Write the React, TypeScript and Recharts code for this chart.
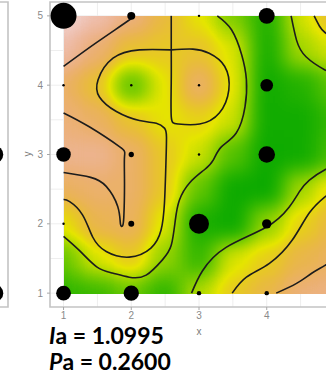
import {
  ComposedChart,
  XAxis,
  YAxis,
  ZAxis,
  CartesianGrid,
  ReferenceArea,
  Line,
  Scatter,
} from "recharts";

// surface sampled every half unit, rows run from y = 5 down to y = 1
const gridX = [1, 1.5, 2, 2.5, 3, 3.5, 4, 4.5, 5];
const gridY = [5, 4.5, 4, 3.5, 3, 2.5, 2, 1.5, 1];
const surface = [
  [0.95, 0.87, 0.78, 0.64, 0.5, 0.3, 0.1, 0.47, 0.65],
  [0.86, 0.74, 0.6, 0.58, 0.6, 0.48, 0.08, 0.38, 0.48],
  [0.73, 0.6, 0.25, 0.5, 0.72, 0.5, 0.05, 0.1, 0.25],
  [0.76, 0.71, 0.6, 0.5, 0.55, 0.45, 0.05, 0.05, 0.15],
  [0.8, 0.8, 0.72, 0.58, 0.45, 0.22, 0.04, 0.05, 0.2],
  [0.7, 0.73, 0.72, 0.58, 0.25, 0.04, 0.03, 0.38, 0.56],
  [0.5, 0.67, 0.7, 0.48, 0.08, 0.04, 0.35, 0.55, 0.66],
  [0.25, 0.48, 0.58, 0.35, 0.15, 0.47, 0.56, 0.66, 0.71],
  [0.12, 0.15, 0.25, 0.12, 0.42, 0.58, 0.66, 0.76, 0.78],
];

// sampling sites, z drives the dot area
const sites = [
  { x: 1, y: 5, z: 170 },
  { x: 2, y: 5, z: 16 },
  { x: 3, y: 5, z: 1.5 },
  { x: 4, y: 5, z: 64 },
  { x: 1, y: 4, z: 1.5 },
  { x: 2, y: 4, z: 1.5 },
  { x: 3, y: 4, z: 1.5 },
  { x: 4, y: 4, z: 40 },
  { x: 1, y: 3, z: 53 },
  { x: 2, y: 3, z: 7 },
  { x: 3, y: 3, z: 1.5 },
  { x: 4, y: 3, z: 69 },
  { x: 1, y: 2, z: 1.5 },
  { x: 2, y: 2, z: 9 },
  { x: 3, y: 2, z: 100 },
  { x: 4, y: 2, z: 22 },
  { x: 1, y: 1, z: 55 },
  { x: 2, y: 1, z: 59 },
  { x: 3, y: 1, z: 5 },
  { x: 4, y: 1, z: 5 },
];

// sites of the neighbouring panel that reach into view
const neighbourSites = [
  { x: 5, y: 3, z: 78 },
  { x: 5, y: 1, z: 78 },
];

// contour lines
const contourCorner = [
  { x: 1.0, y: 4.27 },
  { x: 1.48, y: 4.61 },
  { x: 1.97, y: 4.94 },
  { x: 2.03, y: 5.0 },
];
const contourTongue = [
  { x: 1.0, y: 3.6 },
  { x: 1.38, y: 3.4 },
  { x: 1.83, y: 3.11 },
  { x: 1.9, y: 2.97 },
  { x: 1.9, y: 2.58 },
  { x: 1.89, y: 2.1 },
  { x: 1.87, y: 1.97 },
  { x: 1.84, y: 2.0 },
  { x: 1.8, y: 2.25 },
  { x: 1.63, y: 2.54 },
  { x: 1.4, y: 2.67 },
  { x: 1.0, y: 2.74 },
];
const contourStem = [
  { x: 2.59, y: 5.0 },
  { x: 2.59, y: 4.51 },
];
const contourRightLoop = [
  { x: 2.59, y: 4.51 },
  { x: 2.59, y: 4.03 },
  { x: 2.59, y: 3.55 },
  { x: 2.69, y: 3.44 },
  { x: 3.01, y: 3.44 },
  { x: 3.3, y: 3.6 },
  { x: 3.44, y: 3.93 },
  { x: 3.38, y: 4.27 },
  { x: 3.15, y: 4.46 },
  { x: 2.91, y: 4.52 },
  { x: 2.59, y: 4.51 },
];
const contourLeftLoop = [
  { x: 2.59, y: 4.51 },
  { x: 2.12, y: 4.51 },
  { x: 1.73, y: 4.39 },
  { x: 1.51, y: 4.08 },
  { x: 1.53, y: 3.83 },
  { x: 1.78, y: 3.62 },
  { x: 2.12, y: 3.49 },
  { x: 2.37, y: 3.45 },
  { x: 2.49, y: 3.38 },
  { x: 2.52, y: 3.25 },
  { x: 2.51, y: 2.82 },
  { x: 2.49, y: 2.3 },
  { x: 2.44, y: 1.91 },
  { x: 2.29, y: 1.65 },
  { x: 1.97, y: 1.52 },
  { x: 1.63, y: 1.6 },
  { x: 1.43, y: 1.81 },
  { x: 1.28, y: 2.13 },
  { x: 1.09, y: 2.32 },
  { x: 1.0, y: 2.35 },
];
const contourValley = [
  { x: 3.27, y: 5.0 },
  { x: 3.48, y: 4.8 },
  { x: 3.63, y: 4.44 },
  { x: 3.7, y: 4.08 },
  { x: 3.68, y: 3.69 },
  { x: 3.55, y: 3.31 },
  { x: 3.33, y: 3.11 },
  { x: 3.21, y: 2.92 },
  { x: 3.08, y: 2.78 },
  { x: 2.86, y: 2.59 },
  { x: 2.71, y: 2.34 },
  { x: 2.65, y: 2.05 },
  { x: 2.59, y: 1.69 },
  { x: 2.46, y: 1.48 },
  { x: 2.22, y: 1.26 },
  { x: 1.97, y: 1.23 },
  { x: 1.72, y: 1.29 },
  { x: 1.49, y: 1.38 },
  { x: 1.24, y: 1.61 },
  { x: 1.0, y: 1.82 },
];
const contourSlopeA = [
  { x: 2.89, y: 1.0 },
  { x: 3.05, y: 1.32 },
  { x: 3.4, y: 1.66 },
  { x: 3.99, y: 1.95 },
  { x: 4.33, y: 2.24 },
  { x: 4.48, y: 2.46 },
  { x: 4.63, y: 2.63 },
  { x: 4.86, y: 2.78 },
  { x: 5.0, y: 2.83 },
];
const contourSlopeB = [
  { x: 3.49, y: 1.0 },
  { x: 3.7, y: 1.23 },
  { x: 4.04, y: 1.43 },
  { x: 4.38, y: 1.77 },
  { x: 4.63, y: 2.16 },
  { x: 4.86, y: 2.39 },
  { x: 5.0, y: 2.5 },
];
const contourSlopeC = [
  { x: 4.14, y: 1.0 },
  { x: 4.44, y: 1.14 },
  { x: 4.67, y: 1.29 },
  { x: 4.86, y: 1.4 },
  { x: 5.0, y: 1.5 },
];
const contourRidgeA = [
  { x: 4.36, y: 5.0 },
  { x: 4.44, y: 4.65 },
  { x: 4.58, y: 4.41 },
  { x: 4.86, y: 4.22 },
  { x: 5.0, y: 4.17 },
];
const contourRidgeB = [
  { x: 4.7, y: 5.0 },
  { x: 4.78, y: 4.85 },
  { x: 4.86, y: 4.76 },
  { x: 5.0, y: 4.68 },
];

const contours = [
  { id: "corner", pts: contourCorner },
  { id: "tongue", pts: contourTongue },
  { id: "stem", pts: contourStem },
  { id: "rightLoop", pts: contourRightLoop },
  { id: "leftLoop", pts: contourLeftLoop },
  { id: "valley", pts: contourValley },
  { id: "slopeA", pts: contourSlopeA },
  { id: "slopeB", pts: contourSlopeB },
  { id: "slopeC", pts: contourSlopeC },
  { id: "ridgeA", pts: contourRidgeA },
  { id: "ridgeB", pts: contourRidgeB },
];

const xTicks = [1, 2, 3, 4];
const yTicks = [1, 2, 3, 4, 5];
const gridLines = [1, 1.5, 2, 2.5, 3, 3.5, 4, 4.5, 5];
const DOMAIN: [number, number] = [0.8, 5.2];

const I_A = 1.0995;
const P_A = 0.26;

const W = 360;
const H = 340;
const MARGIN = { top: 2, right: 12, bottom: 8, left: 20 };

// R's terrain.colors ramp: green -> yellow -> tan -> near white, as 0..1 rgb
const terrain = (v: number): [number, number, number] => {
  const t = Math.min(Math.max(v, 0), 1);
  let h: number, s: number, val: number;
  if (t <= 0.5) {
    const k = t / 0.5;
    h = 120 - 60 * k;
    s = 1;
    val = 0.65 + 0.25 * k;
  } else {
    const k = (t - 0.5) / 0.5;
    h = 60 - 60 * k;
    s = 1 - k;
    val = 0.9 + 0.05 * k;
  }
  const c = val * s;
  const hp = h / 60;
  const xx = c * (1 - Math.abs((hp % 2) - 1));
  const [r, g, b] = hp < 1 ? [c, xx, 0] : hp < 2 ? [xx, c, 0] : [0, c, xx];
  const m = val - c;
  return [r + m, g + m, b + m];
};

// lookup tables used by feComponentTransfer to colour the smoothed values
const RAMP_STEPS = 41;
const ramp = Array.from({ length: RAMP_STEPS }, (_, i) => terrain(i / (RAMP_STEPS - 1)));
const tableR = ramp.map((c) => c[0].toFixed(4)).join(" ");
const tableG = ramp.map((c) => c[1].toFixed(4)).join(" ");
const tableB = ramp.map((c) => c[2].toFixed(4)).join(" ");

// paints the sampled values as grey levels inside the area the axes give it,
// smooths them with a normalised blur and then colours them with the ramp
const SurfaceField = (props: any) => {
  const { x, y, width, height } = props;
  const xMin = gridX[0];
  const xMax = gridX[gridX.length - 1];
  const yMax = gridY[0];
  const yMin = gridY[gridY.length - 1];
  const px = (v: number) => x + ((v - xMin) / (xMax - xMin)) * width;
  const py = (v: number) => y + ((yMax - v) / (yMax - yMin)) * height;
  const hx = (gridX[1] - gridX[0]) / 2;
  const hy = (gridY[0] - gridY[1]) / 2;
  const cells: any[] = [];
  surface.forEach((row, i) => {
    row.forEach((v, j) => {
      const cx = gridX[j];
      const cy = gridY[i];
      const l = px(Math.max(cx - hx, xMin));
      const r = px(Math.min(cx + hx, xMax));
      const t = py(Math.min(cy + hy, yMax));
      const b = py(Math.max(cy - hy, yMin));
      const g = Math.round(v * 255);
      cells.push(
        <rect key={`${i}-${j}`} x={l} y={t} width={r - l + 0.5} height={b - t + 0.5} fill={`rgb(${g},${g},${g})`} />
      );
    });
  });
  return (
    <g>
      <defs>
        <filter id="surface-smooth" x="-10%" y="-10%" width="120%" height="120%" colorInterpolationFilters="sRGB">
          <feGaussianBlur in="SourceGraphic" stdDeviation="10" result="blur" />
          <feColorMatrix
            in="blur"
            type="matrix"
            values="1 0 0 0 0  0 1 0 0 0  0 0 1 0 0  0 0 0 0 1"
            result="solid"
          />
          <feComponentTransfer in="solid" result="coloured">
            <feFuncR type="table" tableValues={tableR} />
            <feFuncG type="table" tableValues={tableG} />
            <feFuncB type="table" tableValues={tableB} />
          </feComponentTransfer>
          <feComposite in="coloured" in2="SourceAlpha" operator="in" />
        </filter>
      </defs>
      <g filter="url(#surface-smooth)" shapeRendering="crispEdges">
        {cells}
      </g>
    </g>
  );
};

const tickStyle = { fontSize: 10, fill: "#8a8a8a", fontFamily: "Liberation Sans, Arial, sans-serif" };

const NeighbourPanel = () => (
  <ComposedChart width={W} height={H} margin={MARGIN}>
    <CartesianGrid stroke="#eeeeee" verticalValues={gridLines} horizontalValues={gridLines} />
    <XAxis type="number" dataKey="x" domain={DOMAIN} ticks={xTicks} allowDataOverflow tick={false} axisLine={false} tickLine={false} height={25} />
    <YAxis type="number" dataKey="y" domain={DOMAIN} ticks={yTicks} allowDataOverflow tick={false} axisLine={false} tickLine={false} width={30} />
    <ZAxis type="number" dataKey="z" domain={[0, 170]} range={[0, 531]} />
    <ReferenceArea x1={DOMAIN[0]} x2={DOMAIN[1]} y1={DOMAIN[0]} y2={DOMAIN[1]} fill="none" stroke="#c4c4c4" strokeWidth={1.6} />
    <Scatter data={neighbourSites} fill="#000" isAnimationActive={false} />
  </ComposedChart>
);

const SurfacePanel = () => (
  <ComposedChart width={W} height={H} margin={MARGIN}>
    <CartesianGrid stroke="#eeeeee" verticalValues={gridLines} horizontalValues={gridLines} />
    <XAxis
      type="number"
      dataKey="x"
      domain={DOMAIN}
      ticks={xTicks}
      allowDataOverflow
      axisLine={false}
      tick={tickStyle}
      tickLine={{ stroke: "#a8a8a8" }}
      tickSize={3}
      tickMargin={2}
      height={25}
    />
    <YAxis
      type="number"
      dataKey="y"
      domain={DOMAIN}
      ticks={yTicks}
      allowDataOverflow
      axisLine={false}
      tick={tickStyle}
      tickLine={{ stroke: "#a8a8a8" }}
      tickSize={3}
      tickMargin={4}
      width={30}
    />
    <ZAxis type="number" dataKey="z" domain={[0, 170]} range={[0, 531]} />
    <ReferenceArea
      x1={gridX[0]}
      x2={gridX[gridX.length - 1]}
      y1={gridY[gridY.length - 1]}
      y2={gridY[0]}
      shape={SurfaceField}
    />
    <ReferenceArea x1={DOMAIN[0]} x2={DOMAIN[1]} y1={DOMAIN[0]} y2={DOMAIN[1]} fill="none" stroke="#c4c4c4" strokeWidth={1.6} />
    {contours.map((c) => (
      <Line
        key={c.id}
        data={c.pts}
        dataKey="y"
        type="natural"
        stroke="#1c1c1c"
        strokeWidth={1.6}
        dot={false}
        activeDot={false}
        isAnimationActive={false}
      />
    ))}
    <Scatter data={sites} fill="#000" isAnimationActive={false} />
  </ComposedChart>
);

export default function App() {
  return (
    <div
      style={{
        position: "fixed",
        left: 0,
        top: 0,
        width: 326,
        height: 381,
        overflow: "hidden",
        background: "#fff",
      }}
    >
      <div style={{ position: "absolute", left: -340, top: 0 }}>
        <NeighbourPanel />
      </div>
      <div style={{ position: "absolute", left: 0, top: 0 }}>
        <SurfacePanel />
      </div>
      <svg width={326} height={381} style={{ position: "absolute", left: 0, top: 0, pointerEvents: "none" }}>
        <text
          x={27}
          y={154}
          transform="rotate(-90 27 154)"
          textAnchor="middle"
          dominantBaseline="central"
          fontSize={10}
          fill="#7a7a7a"
          fontFamily="Liberation Sans, Arial, sans-serif"
        >
          y
        </text>
        <text x={199} y={335} textAnchor="middle" fontSize={10} fill="#7a7a7a" fontFamily="Liberation Sans, Arial, sans-serif">
          x
        </text>
        <text x={49} y={344} fontSize={23} fontWeight={700} fill="#000" fontFamily="Lato, 'Open Sans', sans-serif">
          <tspan fontStyle="italic">I</tspan>a = {I_A.toFixed(4)}
        </text>
        <text x={49} y={370} fontSize={23} fontWeight={700} fill="#000" fontFamily="Lato, 'Open Sans', sans-serif">
          <tspan fontStyle="italic">P</tspan>a = {P_A.toFixed(4)}
        </text>
      </svg>
    </div>
  );
}
